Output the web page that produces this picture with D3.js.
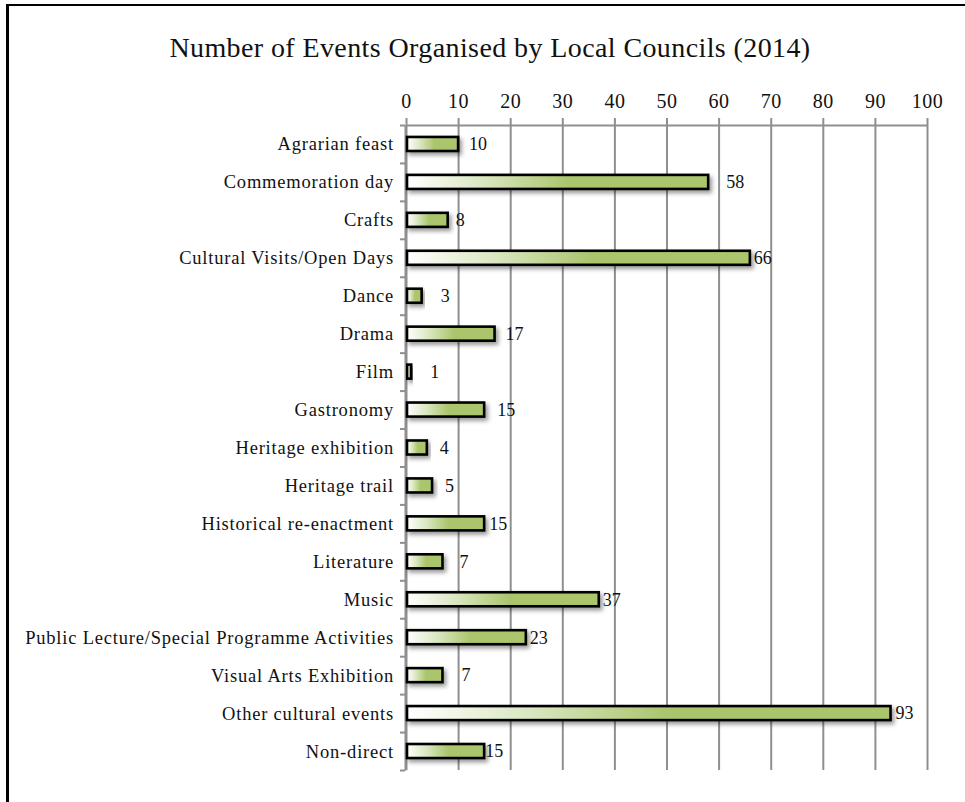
<!DOCTYPE html>
<html>
<head>
<meta charset="utf-8">
<script src="https://cdn.jsdelivr.net/npm/d3@7"></script>
<style>
  html, body { margin: 0; padding: 0; background: #fff; }
  svg { display: block; }
  text { font-family: "Palatino Linotype", "Book Antiqua", Palatino, "Liberation Serif", serif; fill: #111; }
</style>
</head>
<body>
<svg id="chart" width="965" height="802"></svg>
<script>
// Event types and how many of each the councils organised
const categories = [
  "Agrarian feast",
  "Commemoration day",
  "Crafts",
  "Cultural Visits/Open Days",
  "Dance",
  "Drama",
  "Film",
  "Gastronomy",
  "Heritage exhibition",
  "Heritage trail",
  "Historical re-enactment",
  "Literature",
  "Music",
  "Public Lecture/Special Programme Activities",
  "Visual Arts Exhibition",
  "Other cultural events",
  "Non-direct"
];
const eventCounts = [10, 58, 8, 66, 3, 17, 1, 15, 4, 5, 15, 7, 37, 23, 7, 93, 15];
const xTicks = [0, 10, 20, 30, 40, 50, 60, 70, 80, 90, 100];
const titleText = "Number of Events Organised by Local Councils (2014)";

// Hand-placed gap between each bar end and its value label (px)
const labelGap = [11, 18, 8, 4, 19, 11, 19, 13, 13, 13, 5, 17, 4, 4, 19, 5, 1];

const svg = d3.select("#chart");
const W = 965, H = 802;
const plot = { left: 406, right: 927, top: 125, bottom: 770 };
const serif = "\"Palatino Linotype\", \"Book Antiqua\", Palatino, \"Liberation Serif\", serif";

svg.append("rect").attr("width", W).attr("height", H).attr("fill", "#fff");

// Frame (top and left edges visible)
svg.append("line").attr("x1", 6).attr("x2", W).attr("y1", 5).attr("y2", 5)
  .attr("stroke", "#000").attr("stroke-width", 2.2);
svg.append("line").attr("x1", 7.5).attr("x2", 7.5).attr("y1", 4).attr("y2", H)
  .attr("stroke", "#000").attr("stroke-width", 3);

// Title
svg.append("text")
  .attr("x", 490).attr("y", 57)
  .attr("text-anchor", "middle")
  .style("font-size", "28px")
  .style("letter-spacing", "0.4px")
  .text(titleText);

const defs = svg.append("defs");
const grad = defs.append("linearGradient").attr("id", "barFill")
  .attr("x1", "0%").attr("x2", "100%").attr("y1", "0%").attr("y2", "0%");
grad.append("stop").attr("offset", "0%").attr("stop-color", "#ffffff");
grad.append("stop").attr("offset", "25%").attr("stop-color", "#dbe7c2");
grad.append("stop").attr("offset", "54%").attr("stop-color", "#aac56c");
grad.append("stop").attr("offset", "100%").attr("stop-color", "#aac56c");

const shadow = defs.append("filter").attr("id", "barShadow")
  .attr("x", "-10%").attr("y", "-50%").attr("width", "130%").attr("height", "220%");
shadow.append("feDropShadow").attr("dx", 2.5).attr("dy", 3).attr("stdDeviation", 2)
  .attr("flood-color", "#000").attr("flood-opacity", 0.4);

const x = d3.scaleLinear().domain([0, 100]).range([plot.left, plot.right]);
const y = d3.scaleBand().domain(categories).range([plot.top, plot.bottom]).padding(0);
const slot = d3.scaleLinear().domain([0, categories.length]).range([plot.top, plot.bottom]);

const gridColor = "#8f8f8f";

// Top value axis with gridlines running down the plot
const xAxis = svg.append("g")
  .attr("transform", `translate(0,${plot.top})`)
  .call(d3.axisTop(x).tickValues(xTicks).tickSize(7).tickSizeOuter(0).tickFormat(d3.format("d")));
xAxis.select(".domain").attr("stroke", gridColor).attr("stroke-width", 2);
xAxis.selectAll(".tick line")
  .attr("y1", plot.bottom - plot.top)
  .attr("stroke", gridColor).attr("stroke-width", 2);
xAxis.selectAll(".tick text")
  .attr("y", -17)
  .style("font-size", "20px")
  .style("letter-spacing", "0.5px")
  .style("font-family", serif)
  .attr("fill", "#111");

// Category axis: ticks sit between bands
const yAxis = svg.append("g")
  .attr("transform", `translate(${plot.left - 1},0)`)
  .call(d3.axisLeft(slot).ticks(categories.length).tickSize(5).tickSizeOuter(0).tickFormat(""));
yAxis.select(".domain").attr("stroke", gridColor).attr("stroke-width", 2);
yAxis.selectAll(".tick line").attr("stroke", gridColor).attr("stroke-width", 2);

// Category labels
svg.append("g").selectAll("text")
  .data(categories)
  .join("text")
  .attr("x", 394)
  .attr("y", d => y(d) + y.bandwidth() / 2)
  .attr("dy", "0.35em")
  .attr("text-anchor", "end")
  .style("font-size", "18.5px")
  .style("letter-spacing", "0.8px")
  .text(d => d);

// Bars
const barH = y.bandwidth() * 0.37;
svg.append("g").selectAll("rect")
  .data(eventCounts)
  .join("rect")
  .attr("x", x(0) + 1)
  .attr("y", (d, i) => y(categories[i]) + y.bandwidth() / 2 - barH / 2)
  .attr("width", d => x(d) - x(0) - 1)
  .attr("height", barH)
  .attr("fill", "url(#barFill)")
  .attr("stroke", "#000")
  .attr("stroke-width", 2.6)
  .attr("filter", "url(#barShadow)");

// Value labels
svg.append("g").selectAll("text")
  .data(eventCounts)
  .join("text")
  .attr("x", (d, i) => x(d) + labelGap[i])
  .attr("y", (d, i) => y(categories[i]) + y.bandwidth() / 2)
  .attr("dy", "0.35em")
  .style("font-size", "18px")
  .text(d => d);
</script>
</body>
</html>
